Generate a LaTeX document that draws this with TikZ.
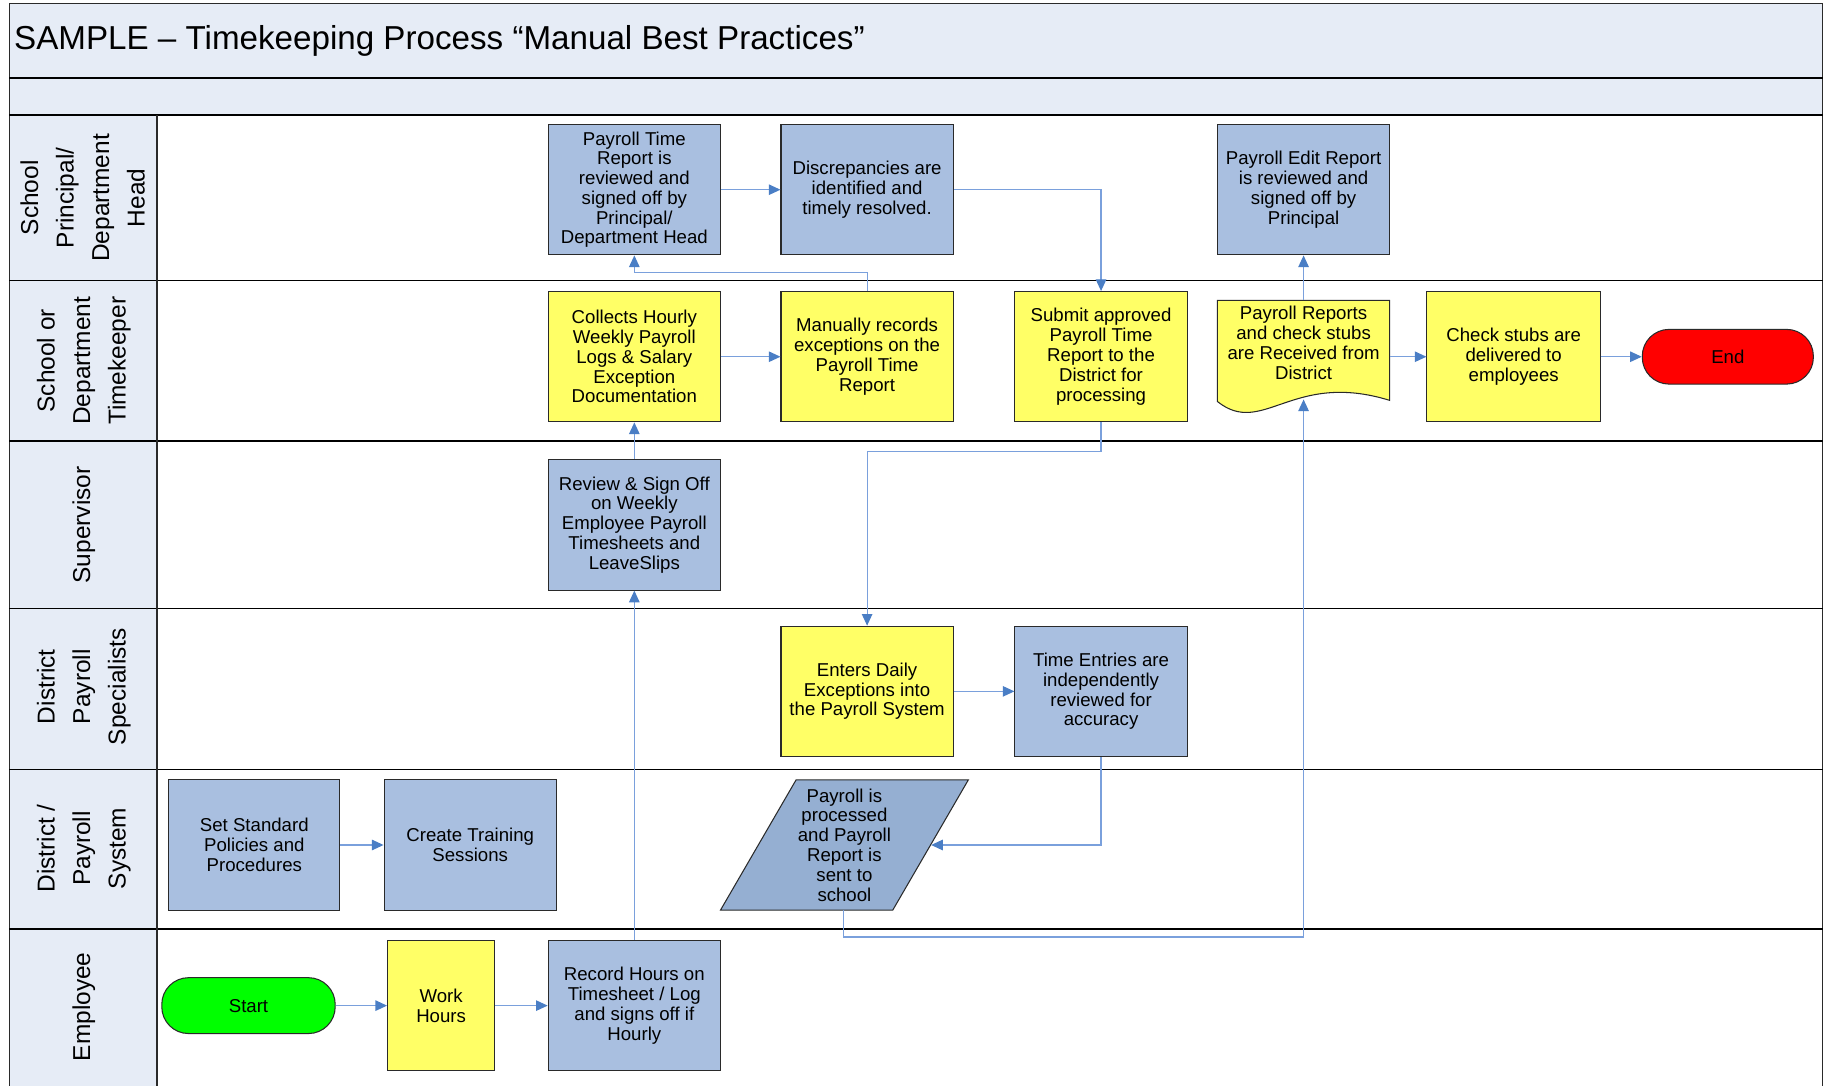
\documentclass[tikz,border=0pt]{standalone}
\usepackage{fontspec}
\setmainfont{Liberation Sans}
\usetikzlibrary{arrows.meta}
\definecolor{bandblue}{HTML}{E6ECF6}
\definecolor{boxblue}{HTML}{A9BFE0}
\definecolor{parablue}{HTML}{95AFD2}
\definecolor{yel}{HTML}{FFFF66}
\definecolor{startgreen}{HTML}{00FF00}
\definecolor{endred}{HTML}{FF0000}
\definecolor{lineblue}{HTML}{7AA0DC}
\definecolor{headblue}{HTML}{4A7EC5}
\definecolor{edge}{HTML}{2A2A2A}
\begin{document}
\begin{tikzpicture}[x=1pt,y=-1pt,
  boxtxt/.style={font=\fontsize{16}{17}\selectfont, align=center},
  procbox/.style={boxtxt, rectangle, draw=edge, line width=0.9pt, inner sep=0pt, minimum width=148pt, minimum height=112pt},
  bluebox/.style={procbox, fill=boxblue},
  yellowbox/.style={procbox, fill=yel},
  terminal/.style={boxtxt, rectangle, rounded corners=23pt, draw=edge, line width=0.9pt, minimum height=47pt, inner sep=0pt},
  lanelabel/.style={rotate=90, align=center, font=\fontsize{21}{30.5}\selectfont},
  laneline/.style={draw=black, line width=1.3pt},
  conn/.style={draw=lineblue, line width=1pt, -{Triangle[length=10pt,width=9pt,color=headblue]}}
]
\useasboundingbox (0,0) rectangle (1568,933);
% backgrounds
\fill[bandblue] (8,3) rectangle (1566,99);
\fill[bandblue] (8,99) rectangle (135,933);
% frame and lane lines
\draw[laneline, draw=edge] (8,933) -- (8,3) -- (1566,3) -- (1566,933);
\foreach \yy in {67,99,241,379,523,661,798} {\draw[laneline] (8,\yy) -- (1566,\yy);}
\draw[laneline, draw=edge] (135,99) -- (135,933);
% title
\node[anchor=west, inner sep=0pt, font=\fontsize{28.5}{32}\selectfont] (title) at (12,35) {SAMPLE – Timekeeping Process “Manual Best Practices”};
% lane labels
\node[lanelabel] (l1) at (71,170) {School\\Principal/\\Department\\Head};
\node[lanelabel] (l2) at (72,310) {School or\\Department\\Timekeeper};
\node[lanelabel] (l3) at (72,451) {Supervisor};
\node[lanelabel] (l4) at (72,590) {District\\Payroll\\Specialists};
\node[lanelabel] (l5) at (72,729) {District /\\Payroll\\System};
\node[lanelabel] (l6) at (72,865) {Employee};
% shapes needing paths
\filldraw[fill=yel, draw=edge, line width=0.9pt] (1046,258) -- (1194,258) -- (1194,344) .. controls (1110,318) and (1085,376) .. (1046,345) -- cycle;
\filldraw[fill=parablue, draw=edge, line width=0.9pt] (619,782) -- (684,670) -- (832,670) -- (767,782) -- cycle;
\coordinate (paraR) at (800,726);
\coordinate (paraB) at (725,782);
% nodes
\node[bluebox] (ptr) at (545,163) {Payroll Time\\Report is\\reviewed and\\signed off by\\Principal/\\Department Head};
\node[bluebox] (disc) at (745,163) {Discrepancies are\\identified and\\timely resolved.};
\node[bluebox] (per) at (1120,163) {Payroll Edit Report\\is reviewed and\\signed off by\\Principal};
\node[yellowbox] (collect) at (545,306.5) {Collects Hourly\\Weekly Payroll\\Logs \& Salary\\Exception\\Documentation};
\node[yellowbox] (manual) at (745,306.5) {Manually records\\exceptions on the\\Payroll Time\\Report};
\node[yellowbox] (submit) at (946,306.5) {Submit approved\\Payroll Time\\Report to the\\District for\\processing};
\node[boxtxt, minimum width=148pt, minimum height=85pt, inner sep=0pt] (reportsshape) at (1120,300.5) {};
\node[boxtxt] (reports) at (1120,294.5) {Payroll Reports\\and check stubs\\are Received from\\District};
\node[yellowbox, minimum width=149pt] (check) at (1300.5,306.5) {Check stubs are\\delivered to\\employees};
\node[terminal, fill=endred, minimum width=147pt] (end) at (1484.5,306.5) {End};
\node[bluebox] (review) at (545,451) {Review \& Sign Off\\on Weekly\\Employee Payroll\\Timesheets and\\LeaveSlips};
\node[yellowbox] (enters) at (745,594) {Enters Daily\\Exceptions into\\the Payroll System};
\node[bluebox] (timeent) at (946,594) {Time Entries are\\independently\\reviewed for\\accuracy};
\node[bluebox, minimum width=147pt] (setstd) at (218.5,726) {Set Standard\\Policies and\\Procedures};
\node[bluebox] (create) at (404,726) {Create Training\\Sessions};
\node[boxtxt] (para) at (725.5,726) {Payroll is\\processed\\and Payroll\\Report is\\sent to\\school};
\node[terminal, fill=startgreen, minimum width=149pt, minimum height=48pt] (start) at (213.5,864) {Start};
\node[yellowbox, minimum width=92pt] (work) at (379,864) {Work\\Hours};
\node[bluebox] (record) at (545,864) {Record Hours on\\Timesheet / Log\\and signs off if\\Hourly};
% connectors
\draw[conn] (ptr.east) -- (disc.west);
\draw[conn] (disc.east) -| (submit.north);
\draw[conn] (manual.north) -- ++(0,-16) -| (ptr.south);
\draw[conn] (collect.east) -- (manual.west);
\draw[conn] (submit.south) -- ++(0,25) -| (enters.north);
\draw[conn] (reportsshape.north) -- (per.south);
\draw[conn] (check.west -| reportsshape.east) -- (check.west);
\draw[conn] (check.east) -- (end.west);
\draw[conn] (review.north) -- (collect.south);
\draw[conn] (record.north) -- (review.south);
\draw[conn] (enters.east) -- (timeent.west);
\draw[conn] (timeent.south) |- (paraR);
\draw[conn] (paraB) -- ++(0,23) -| (reportsshape.south);
\draw[conn] (setstd.east) -- (create.west);
\draw[conn] (start.east) -- (work.west);
\draw[conn] (work.east) -- (record.west);
\end{tikzpicture}
\end{document}
